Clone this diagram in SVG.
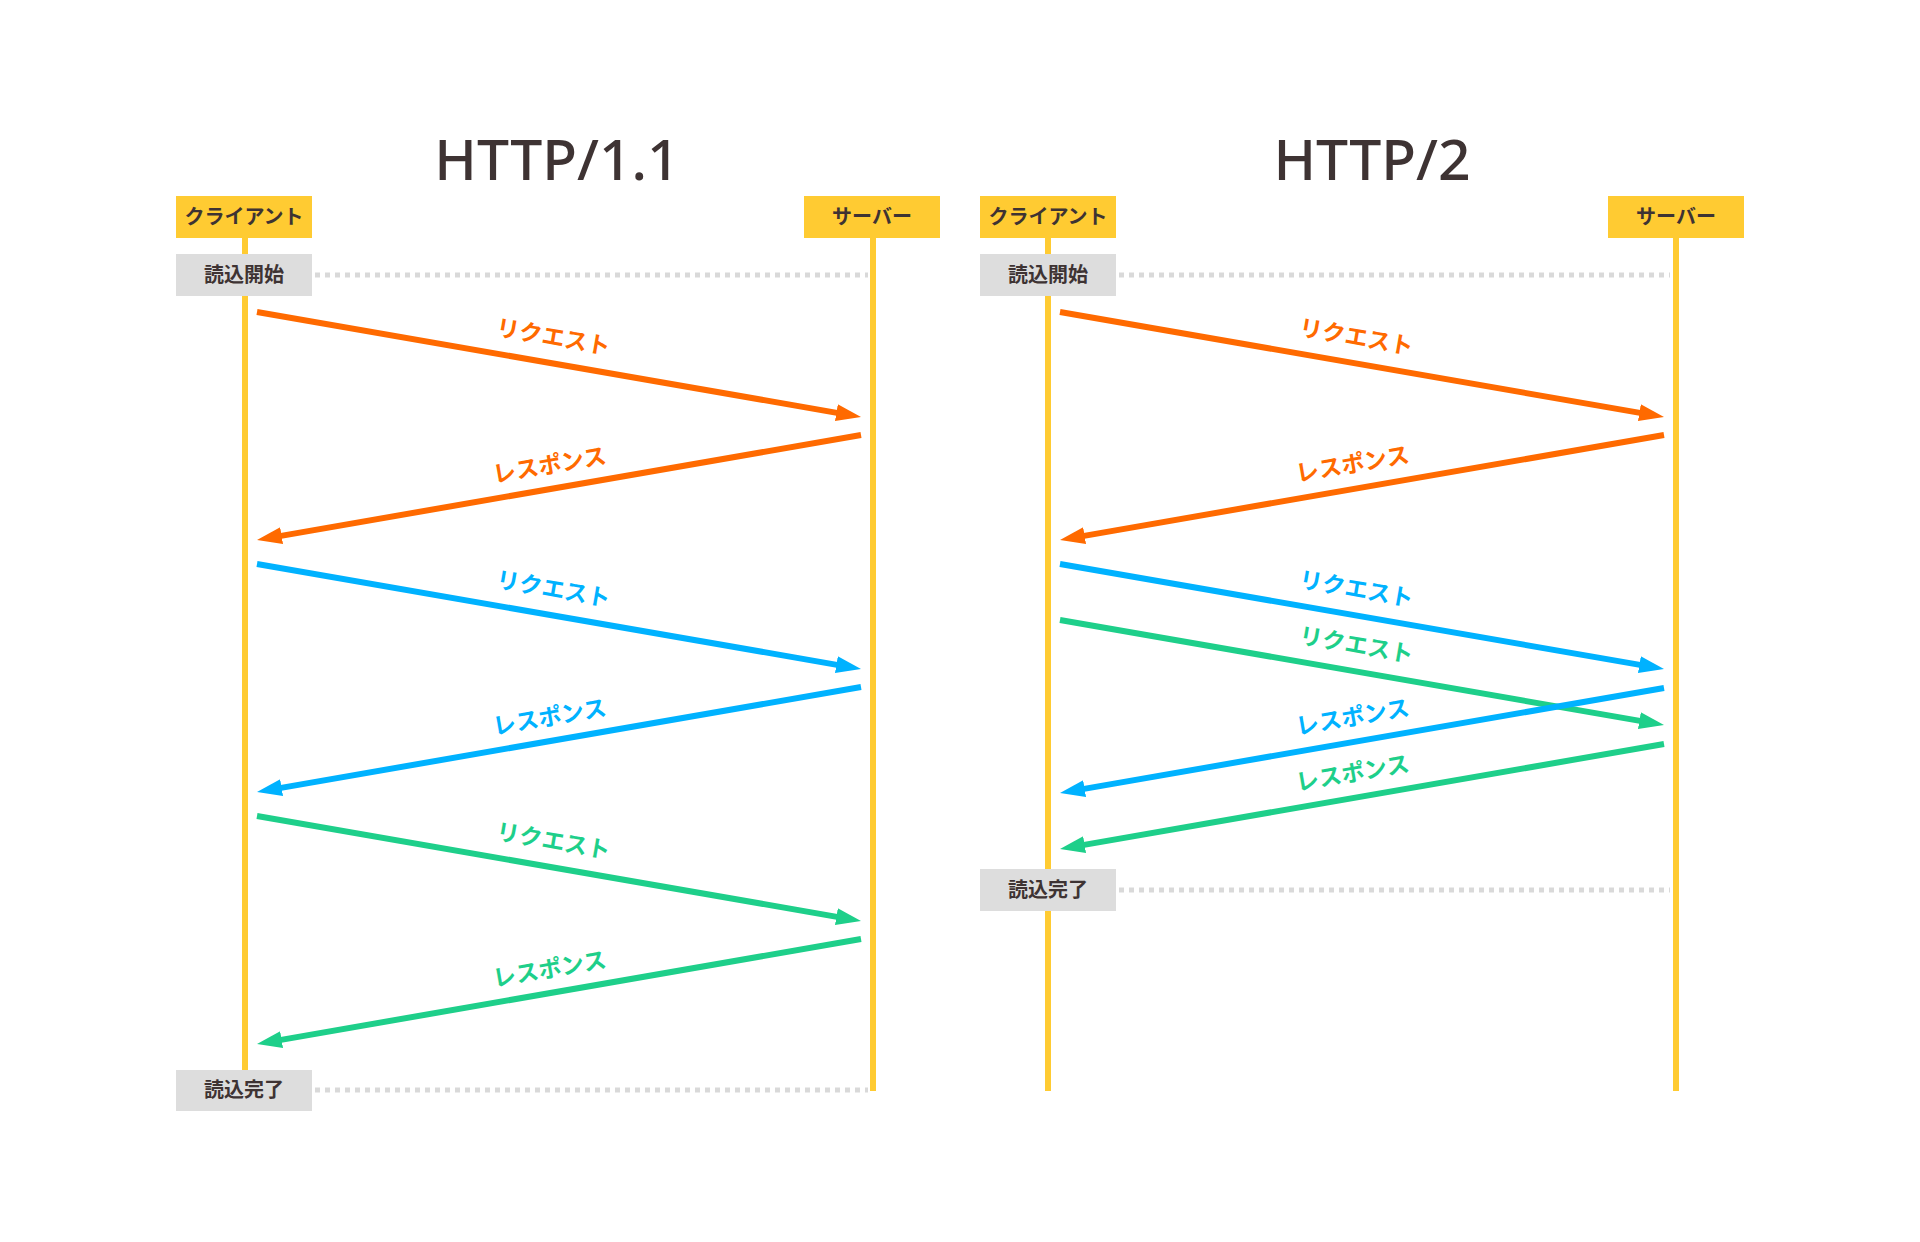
<svg xmlns="http://www.w3.org/2000/svg" width="1920" height="1242" viewBox="0 0 1920 1242">
<defs>
<style>
.title{font-family:"Noto Sans","Liberation Sans",sans-serif;font-size:57px;font-weight:500;fill:#3e3333;text-anchor:middle}
.lbl{font-family:"Noto Sans CJK JP","Noto Sans",sans-serif;font-size:20px;font-weight:bold;fill:#3e3333;text-anchor:middle}
.msg{font-family:"Noto Sans CJK JP","Noto Sans",sans-serif;font-size:23px;font-weight:bold;text-anchor:middle}
.actor{fill:#ffcb32}
.state{fill:#dddddd}
.life{stroke:#ffcb32;stroke-width:6;fill:none}
.dot{stroke:#d9d9d9;stroke-width:5;stroke-dasharray:5 5;fill:none}
.arr{stroke-width:6;fill:none}
.o{stroke:#ff6a00}
.b{stroke:#00b2ff}
.g{stroke:#1ecf8a}
.to{fill:#ff6a00}
.tb{fill:#00b2ff}
.tg{fill:#1ecf8a}
</style>
<marker id="mo" viewBox="0 0 25 17" markerUnits="userSpaceOnUse" markerWidth="25" markerHeight="17" refX="5" refY="8.5" orient="auto"><path d="M0,0 L25,8.5 L0,17 z" fill="#ff6a00"/></marker>
<marker id="mb" viewBox="0 0 25 17" markerUnits="userSpaceOnUse" markerWidth="25" markerHeight="17" refX="5" refY="8.5" orient="auto"><path d="M0,0 L25,8.5 L0,17 z" fill="#00b2ff"/></marker>
<marker id="mg" viewBox="0 0 25 17" markerUnits="userSpaceOnUse" markerWidth="25" markerHeight="17" refX="5" refY="8.5" orient="auto"><path d="M0,0 L25,8.5 L0,17 z" fill="#1ecf8a"/></marker>
</defs>
<rect width="1920" height="1242" fill="#ffffff"/>

<text class="title" x="557" y="180">HTTP/1.1</text>
<text class="title" x="1372" y="180">HTTP/2</text>

<g id="lifelines">
<line class="life" x1="245" y1="238" x2="245" y2="1070"/>
<line class="life" x1="873" y1="238" x2="873" y2="1091"/>
<line class="life" x1="1048" y1="238" x2="1048" y2="1091"/>
<line class="life" x1="1676" y1="238" x2="1676" y2="1091"/>
</g>

<g id="guides">
<line class="dot" x1="315" y1="275" x2="868" y2="275"/>
<line class="dot" x1="315" y1="1090" x2="868" y2="1090"/>
<line class="dot" x1="1119" y1="275" x2="1670" y2="275"/>
<line class="dot" x1="1119" y1="890" x2="1670" y2="890"/>
</g>

<g id="client1"><rect class="actor" x="176" y="196" width="136" height="42"/><text class="lbl" x="244" y="224">クライアント</text></g>
<g id="server1"><rect class="actor" x="804" y="196" width="136" height="42"/><text class="lbl" x="872" y="224">サーバー</text></g>
<g id="client2"><rect class="actor" x="980" y="196" width="136" height="42"/><text class="lbl" x="1048" y="224">クライアント</text></g>
<g id="server2"><rect class="actor" x="1608" y="196" width="136" height="42"/><text class="lbl" x="1676" y="224">サーバー</text></g>

<g id="start1"><rect class="state" x="176" y="254" width="136" height="42"/><text class="lbl" x="244" y="282">読込開始</text></g>
<g id="end1"><rect class="state" x="176" y="1070" width="136" height="41"/><text class="lbl" x="244" y="1097">読込完了</text></g>
<g id="start2"><rect class="state" x="980" y="254" width="136" height="42"/><text class="lbl" x="1048" y="282">読込開始</text></g>
<g id="end2"><rect class="state" x="980" y="869" width="136" height="42"/><text class="lbl" x="1048" y="897">読込完了</text></g>

<g id="connectors">
<path class="arr o" d="M257,312 L841.3,413.6" marker-end="url(#mo)"/>
<path class="arr o" d="M861,435 L276.7,536.6" marker-end="url(#mo)"/>
<path class="arr b" d="M257,564 L841.3,665.6" marker-end="url(#mb)"/>
<path class="arr b" d="M861,687 L276.7,788.6" marker-end="url(#mb)"/>
<path class="arr g" d="M257,816 L841.3,917.6" marker-end="url(#mg)"/>
<path class="arr g" d="M861,939 L276.7,1040.6" marker-end="url(#mg)"/>

<path class="arr o" d="M1060,312 L1644.3,413.6" marker-end="url(#mo)"/>
<path class="arr o" d="M1664,435 L1079.7,536.6" marker-end="url(#mo)"/>
<path class="arr g" d="M1060,620 L1644.3,721.6" marker-end="url(#mg)"/>
<path class="arr b" d="M1060,564 L1644.3,665.6" marker-end="url(#mb)"/>
<path class="arr b" d="M1664,688 L1079.7,789.6" marker-end="url(#mb)"/>
<path class="arr g" d="M1664,744 L1079.7,845.6" marker-end="url(#mg)"/>

<text class="msg to" x="552" y="345" transform="rotate(9.86 552 345)">リクエスト</text>
<text class="msg to" x="551" y="473" transform="rotate(-9.86 551 473)">レスポンス</text>
<text class="msg tb" x="552" y="597" transform="rotate(9.86 552 597)">リクエスト</text>
<text class="msg tb" x="551" y="725" transform="rotate(-9.86 551 725)">レスポンス</text>
<text class="msg tg" x="552" y="849" transform="rotate(9.86 552 849)">リクエスト</text>
<text class="msg tg" x="551" y="977" transform="rotate(-9.86 551 977)">レスポンス</text>

<text class="msg to" x="1355" y="345" transform="rotate(9.86 1355 345)">リクエスト</text>
<text class="msg to" x="1354" y="472" transform="rotate(-9.86 1354 472)">レスポンス</text>
<text class="msg tb" x="1355" y="597" transform="rotate(9.86 1355 597)">リクエスト</text>
<text class="msg tg" x="1355" y="653" transform="rotate(9.86 1355 653)">リクエスト</text>
<text class="msg tb" x="1354" y="725" transform="rotate(-9.86 1354 725)">レスポンス</text>
<text class="msg tg" x="1354" y="781" transform="rotate(-9.86 1354 781)">レスポンス</text>
</g>
</svg>
